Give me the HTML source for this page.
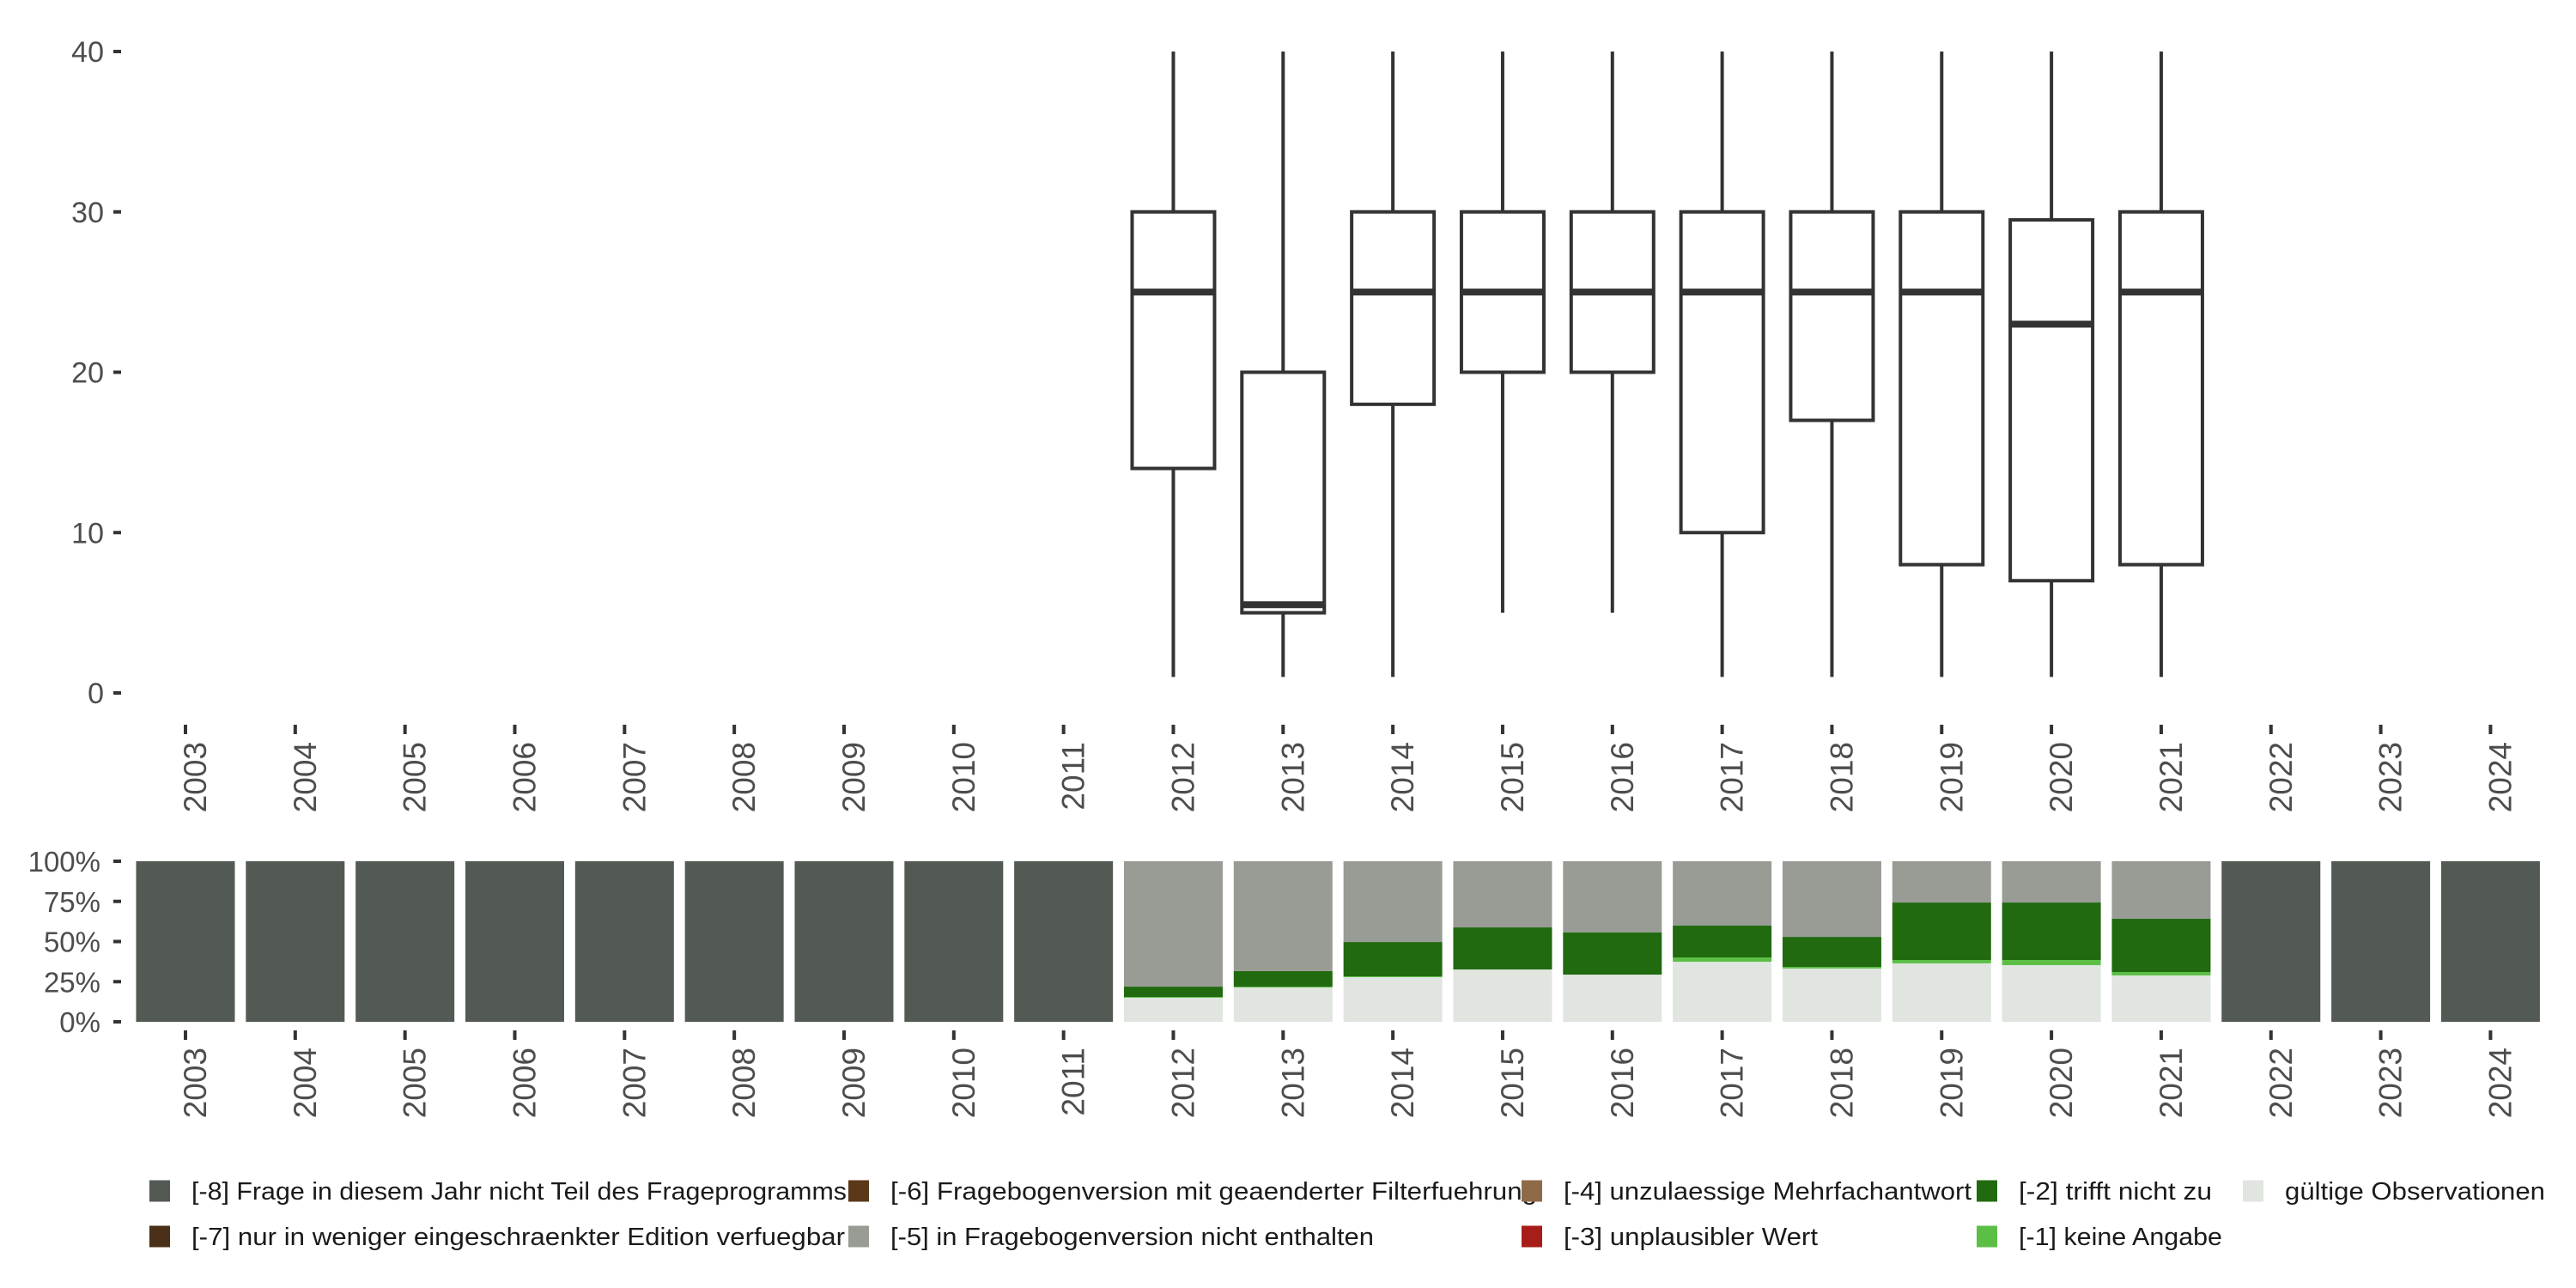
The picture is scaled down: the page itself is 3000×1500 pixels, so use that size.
<!DOCTYPE html>
<html><head><meta charset="utf-8"><style>
html,body{margin:0;padding:0;background:#fff;}
svg{display:block;font-family:"Liberation Sans",sans-serif;}
</style></head><body>
<svg id="chart" width="3000" height="1500" viewBox="0 0 3000 1500" xmlns="http://www.w3.org/2000/svg"></svg>
<script>
const years=["2003","2004","2005","2006","2007","2008","2009","2010","2011","2012","2013","2014","2015","2016","2017","2018","2019","2020","2021","2022","2023","2024"];
const boxYears=["2012","2013","2014","2015","2016","2017","2018","2019","2020","2021"];
const whiskLow=[1,1,1,5,5,1,1,1,1,1];
const q1=[14,5,18,20,20,10,17,8,7,8];
const med=[25,5.5,25,25,25,25,25,25,23,25];
const q3=[30,20,30,30,30,30,30,30,29.5,30];
const whiskHigh=[40,40,40,40,40,40,40,40,40,40];
const yTicks=[0,10,20,30,40];
const pctTicks=[0,25,50,75,100];
const pctLabels=["0%","25%","50%","75%","100%"];
// shares per year (bottom to top): valid, [-1], [-2], [-5], [-8]
const shareValid=[0,0,0,0,0,0,0,0,0,0.15,0.214,0.278,0.326,0.294,0.374,0.332,0.364,0.353,0.289,0,0,0];
const shareNoAnswer=[0,0,0,0,0,0,0,0,0,0.005,0.005,0.005,0,0,0.027,0.01,0.021,0.032,0.021,0,0,0];
const shareNotApply=[0,0,0,0,0,0,0,0,0,0.064,0.097,0.214,0.262,0.262,0.198,0.187,0.358,0.358,0.332,0,0,0];
const shareNotInVersion=[0,0,0,0,0,0,0,0,0,0.781,0.684,0.503,0.412,0.444,0.401,0.471,0.257,0.257,0.358,0,0,0];
const shareNotInYear=[1,1,1,1,1,1,1,1,1,0,0,0,0,0,0,0,0,0,0,1,1,1];
const legendLabels=["[-8] Frage in diesem Jahr nicht Teil des Frageprogramms","[-7] nur in weniger eingeschraenkter Edition verfuegbar","[-6] Fragebogenversion mit geaenderter Filterfuehrung","[-5] in Fragebogenversion nicht enthalten","[-4] unzulaessige Mehrfachantwort","[-3] unplausibler Wert","[-2] trifft nicht zu","[-1] keine Angabe","gültige Observationen"];

const NS="http://www.w3.org/2000/svg";
const svg=document.getElementById('chart');
function el(tag,attrs,parent){const e=document.createElementNS(NS,tag);for(const k in attrs)e.setAttribute(k,attrs[k]);(parent||svg).appendChild(e);return e;}
const xPos=i=>216+i*127.83;
const yTop=v=>807-v*(747/40);
const yBot=p=>1190-p*1.87;
const C={axis:"#333333",lab:"#4d4d4d"};

const gTop=el('g',{});


yTicks.forEach(t=>{
  const y=yTop(t);
  const tk=el('line',{x1:132,x2:141,y1:y,y2:y,stroke:C.axis,'stroke-width':4},gTop);
  
  
  const tx=el('text',{x:121,y:y+12,'text-anchor':'end','font-size':34,fill:C.lab},gTop);
  
  
  tx.textContent=t;
});
years.forEach((yr,i)=>{
  const x=xPos(i);
  const tk=el('line',{x1:x,x2:x,y1:844,y2:855,stroke:C.axis,'stroke-width':4},gTop);
  
  
  const tx=el('text',{x:0,y:0,'text-anchor':'end','font-size':37,fill:C.lab,transform:`translate(${x+24},864) rotate(-90)`},gTop);
  
  
  tx.textContent=yr;
});
boxYears.forEach((yr,j)=>{
  const i=years.indexOf(yr);const x=xPos(i);const w=96;
  const g=el('g',{},gTop);
  
  
  el('line',{x1:x,x2:x,y1:yTop(whiskHigh[j]),y2:yTop(q3[j]),stroke:C.axis,'stroke-width':4},g);
  el('line',{x1:x,x2:x,y1:yTop(q1[j]),y2:yTop(whiskLow[j]),stroke:C.axis,'stroke-width':4},g);
  el('rect',{x:x-w/2,y:yTop(q3[j]),width:w,height:yTop(q1[j])-yTop(q3[j]),fill:'#fff',stroke:C.axis,'stroke-width':4},g);
  el('line',{x1:x-w/2,x2:x+w/2,y1:yTop(med[j]),y2:yTop(med[j]),stroke:C.axis,'stroke-width':8},g);
});

const gBot=el('g',{});


pctTicks.forEach((t,k)=>{
  const y=yBot(t);
  const tk=el('line',{x1:132,x2:141,y1:y,y2:y,stroke:C.axis,'stroke-width':4},gBot);
  
  
  const tx=el('text',{x:117,y:y+12,'text-anchor':'end','font-size':33,fill:C.lab},gBot);
  
  
  tx.textContent=pctLabels[k];
});
const stack=[[shareValid,'#e0e5e0','valid'],[shareNoAnswer,'#5bbf45','no-answer'],[shareNotApply,'#216a0f','not-apply'],[shareNotInVersion,'#989c95','not-in-version'],[shareNotInYear,'#535a53','not-in-year']];
years.forEach((yr,i)=>{
  const x=xPos(i);let cum=0;
  stack.forEach(([arr,col,nm])=>{
    const v=arr[i]*100;if(v<=0)return;
    const r=el('rect',{x:x-57.5,y:yBot(cum+v),width:115,height:yBot(cum)-yBot(cum+v),fill:col},gBot);
    
    
    cum+=v;
  });
  const tk=el('line',{x1:x,x2:x,y1:1200,y2:1211,stroke:C.axis,'stroke-width':4},gBot);
  
  
  const tx=el('text',{x:0,y:0,'text-anchor':'end','font-size':37,fill:C.lab,transform:`translate(${x+24},1220) rotate(-90)`},gBot);
  
  
  tx.textContent=yr;
});

const legCols=['#535a53','#4a3018','#5a3818','#989c95','#8f6a48','#a61d19','#216a0f','#5bbf45','#e0e5e0'];
const legSq=[174,174,988,988,1772,1772,2302,2302,2612];
const legW=[763,761,753,563,475,296,225,237,303];
const gLeg=el('g',{});


legendLabels.forEach((lab,k)=>{
  const cy=k%2===0?1387:1440;
  const g=el('g',{},gLeg);
  
  
  el('rect',{x:legSq[k],y:cy-12.5,width:24,height:25,fill:legCols[k]},g);
  const t=el('text',{x:legSq[k]+49,y:cy+10,'font-size':29,fill:'#1a1a1a',textLength:legW[k],lengthAdjust:'spacingAndGlyphs'},g);
  t.textContent=lab;
});
</script>
</body></html>
